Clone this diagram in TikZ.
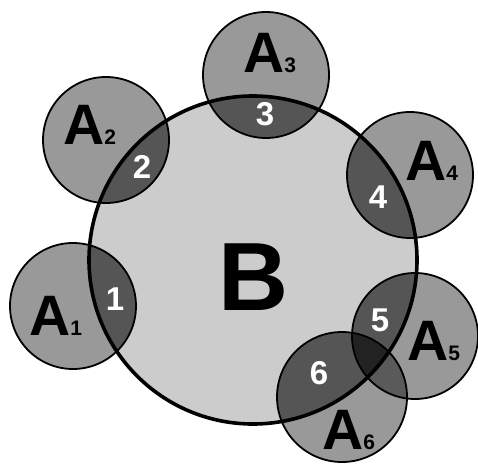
\documentclass[tikz,border=0pt]{standalone}
\usepackage{fontspec}
\setmainfont{Liberation Sans}
\definecolor{bfill}{HTML}{CCCCCC}
\definecolor{afill}{HTML}{999999}
\definecolor{abfill}{HTML}{555555}
\definecolor{aafill}{HTML}{5A5A5A}
\definecolor{aabfill}{HTML}{222222}
\begin{document}
\begin{tikzpicture}[x=1pt,y=-1pt,
  alab/.style={inner sep=0pt,anchor=base west,font=\bfseries\fontsize{57}{57}\selectfont},
  nlab/.style={inner sep=0pt,text=white,font=\bfseries\fontsize{33}{33}\selectfont},
  blab/.style={inner sep=0pt,font=\bfseries\fontsize{97}{97}\selectfont},
  aline/.style={draw=black,line width=1.8pt},
  bline/.style={draw=black,line width=3.6pt}]
\useasboundingbox (0,0) rectangle (478,465);
\coordinate (cB) at (253,260);
\coordinate (c1) at (73,306);
\coordinate (c2) at (106,140);
\coordinate (c3) at (266,75);
\coordinate (c4) at (410,175);
\coordinate (c5) at (415,336);
\coordinate (c6) at (342,397);
\def\rB{164pt}
\def\rA{63pt}
\def\rAs{65pt}
% B fill
\fill[bfill] (cB) circle (\rB);
% A fills
\foreach \c in {c1,c2,c3,c4,c5}{\fill[afill] (\c) circle (\rA);}
\fill[afill] (c6) circle (\rAs);
% A inside B
\begin{scope}
  \clip (cB) circle (\rB);
  \foreach \c in {c1,c2,c3,c4,c5}{\fill[abfill] (\c) circle (\rA);}
  \fill[abfill] (c6) circle (\rAs);
\end{scope}
% A5 and A6 overlap outside B
\begin{scope}
  \clip (c5) circle (\rA);
  \fill[aafill] (c6) circle (\rAs);
  \clip (c6) circle (\rAs);
  \fill[aabfill] (cB) circle (\rB);
\end{scope}
% outlines
\foreach \c in {c1,c2,c3,c4,c5}{\draw[aline] (\c) circle (\rA);}
\draw[aline] (c6) circle (\rAs);
\draw[bline] (cB) circle (\rB);
% labels
\node[blab] (B) at (254,277) {B};
\node[alab] (A1) at (29,335) {A\fontsize{21}{21}\selectfont 1};
\node[alab] (A2) at (63,144) {A\fontsize{21}{21}\selectfont 2};
\node[alab] (A3) at (243,73) {A\fontsize{21}{21}\selectfont 3};
\node[alab] (A4) at (405,180) {A\fontsize{21}{21}\selectfont 4};
\node[alab] (A5) at (407,360) {A\fontsize{21}{21}\selectfont 5};
\node[alab] (A6) at (322,449) {A\fontsize{21}{21}\selectfont 6};
\node[nlab] (n1) at (115,299) {1};
\node[nlab] (n2) at (142,167) {2};
\node[nlab] (n3) at (265,114) {3};
\node[nlab] (n4) at (378,197) {4};
\node[nlab] (n5) at (380,320) {5};
\node[nlab] (n6) at (319,373) {6};
\end{tikzpicture}
\end{document}
